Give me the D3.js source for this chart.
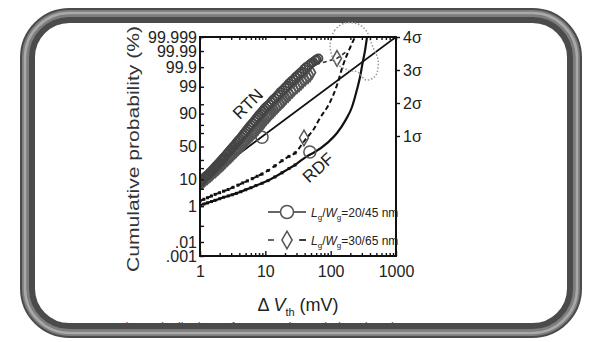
<!DOCTYPE html>
<html>
<head>
<meta charset="utf-8">
<script src="https://cdn.jsdelivr.net/npm/d3@7"></script>
<style>
  html, body { margin: 0; padding: 0; background: #fff; }
  svg { display: block; font-family: "Liberation Sans", Arial, sans-serif; }
</style>
</head>
<body>
<div id="chart"></div>
<script>
/* cumulative probability plot of ΔVth (RTN vs RDF), probit y / log x */

const WIDTH = 589;
const HEIGHT = 342;

// — Data ———————————————————————————————————————————————————————
// [ΔVth (mV), cumulative probability (%)]
const rtnSmall = [  // Lg/Wg = 20/45 nm
  [1.0, 8], [1.05, 9], [1.1, 10], [1.2, 12], [1.28, 13], [1.35, 14], [1.42, 15.5],
  [1.5, 17], [1.58, 18.5], [1.65, 20], [1.72, 21.5], [1.8, 23], [1.9, 25], [2.0, 27],
  [2.1, 29], [2.2, 31], [2.3, 33], [2.4, 35], [2.55, 38], [2.7, 41], [2.85, 43.5],
  [3.0, 46], [3.15, 48.5], [3.3, 51], [3.5, 54], [3.7, 57], [3.9, 59.5], [4.1, 62],
  [4.35, 65], [4.6, 68], [4.85, 70.5], [5.1, 73], [5.4, 75.5], [5.7, 78], [6.0, 80],
  [6.4, 82], [6.8, 84], [7.2, 86], [7.6, 87.5], [8.0, 89], [8.5, 90.2], [9.0, 91.5],
  [9.5, 92.5], [10, 93.5], [10.7, 94.3], [11.5, 95], [12.2, 95.8], [13, 96.5],
  [14, 97], [15, 97.5], [16, 97.9], [17, 98.3], [18.5, 98.6], [20, 98.9],
  [21.5, 99.1], [23, 99.3], [25, 99.45], [27, 99.55], [29, 99.65], [31, 99.72],
  [33.5, 99.78], [36, 99.82], [39, 99.87], [42, 99.9], [46, 99.92], [50, 99.94],
  [54, 99.95], [58, 99.96], [61, 99.965], [65, 99.97],
];
const rtnLarge = [  // Lg/Wg = 30/65 nm
  [1.0, 7], [1.08, 8], [1.15, 9], [1.22, 10], [1.3, 11], [1.37, 12], [1.45, 13],
  [1.52, 14], [1.6, 15.5], [1.7, 16.5], [1.8, 18], [1.9, 19.5], [2.0, 21], [2.15, 23],
  [2.3, 25], [2.45, 27.5], [2.6, 30], [2.75, 32], [2.9, 34], [3.05, 36], [3.2, 38],
  [3.4, 40.5], [3.6, 43], [3.8, 45.5], [4.0, 48], [4.25, 50.5], [4.5, 53], [4.75, 55.5],
  [5.0, 58], [5.3, 60.5], [5.6, 63], [5.95, 65.5], [6.3, 68], [6.65, 70], [7.0, 72],
  [7.4, 74], [7.8, 76], [8.2, 78], [8.7, 80], [9.2, 82], [9.7, 84], [10.3, 86],
  [11, 87.5], [11.7, 89], [12.5, 90.5], [13.2, 91.5], [14, 92.5], [15, 93.5],
  [16, 94.5], [17.2, 95.3], [18.5, 96], [19.7, 96.6], [21, 97.2], [22.5, 97.6],
  [24, 98.0], [26, 98.4], [28, 98.7], [30.5, 98.95], [33, 99.15], [35.5, 99.3],
  [38, 99.45], [41, 99.55], [45, 99.65], [48.5, 99.72], [52, 99.8],
];
const rtnFit = [[1, 7.8], [1000, 99.999]];
const rtnTail = [[60, 99.93], [125, 99.97], [170, 99.988]];

const rdfSmall = [
  [1.0, 1.1], [1.15, 1.25], [1.3, 1.4], [1.5, 1.6], [1.7, 1.8], [2.0, 2.1],
  [2.3, 2.4], [2.7, 2.7], [3.1, 3.0], [3.6, 3.4], [4.2, 3.9], [5.0, 4.6],
  [6.0, 5.4], [7.2, 6.4], [8.9, 7.6], [11, 9.2], [14, 11.8], [18, 15.3], [23, 19.5],
  [28.5, 23.6], [36, 30], [45, 36], [54, 40], [90, 56], [125, 70], [170, 85],
  [212, 93.8], [250, 98.5], [281, 99.65], [310, 99.95], [336, 99.991], [360, 99.999],
];
const rdfLarge = [
  [1.0, 1.7], [1.15, 2.0], [1.3, 2.3], [1.5, 2.7], [1.7, 3.1], [2.0, 3.6],
  [2.3, 4.1], [2.7, 4.7], [3.2, 5.6], [3.8, 6.6], [4.5, 7.8], [5.3, 9.0],
  [6.3, 10.5], [7.5, 12.3], [8.9, 14.2], [11, 17.5], [14, 22.5], [18, 29], [23, 35],
  [28.5, 40], [40.5, 60], [55, 75], [68.7, 86.6], [98, 95.8], [125, 99.16],
  [154, 99.92], [198, 99.994], [236, 99.999],
];

// big open symbols sitting on the fitted lines
const bigCircles = [[8.9, 64], [48, 41.5]];
const bigDiamonds = [[39, 63], [125, 99.97]];

// dotted highlight around the crossing point, [mV, z]
const highlight = [
  [166, 4.81], [116, 4.53], [98, 3.95], [116, 3.29], [184, 2.98], [262, 2.9],
  [347, 2.59], [494, 2.78], [531, 3.37], [430, 3.95], [360, 4.46], [262, 4.77],
];

// — Axis ticks ————————————————————————————————————————————————
const xMajor = [1, 10, 100, 1000];
const yTicks = [0.001, 0.01, 0.1, 1, 5, 10, 20, 30, 50, 70, 80, 90, 95, 99, 99.9, 99.99, 99.999];
const yLabels = { 0.001: '.001', 0.01: '.01', 1: '1', 10: '10', 50: '50', 90: '90',
  99: '99', 99.9: '99.9', 99.99: '99.99', 99.999: '99.999' };
const sigmaTicks = [1, 2, 3, 4];
const legendNames = ['20/45 nm', '30/65 nm'];

// inverse normal CDF (Acklam)
function probit(p) {
  const a = [-3.969683028665376e+01, 2.209460984245205e+02, -2.759285104469687e+02,
    1.383577518672690e+02, -3.066479806614716e+01, 2.506628277459239e+00];
  const b = [-5.447609879822406e+01, 1.615858368580409e+02, -1.556989798598866e+02,
    6.680131188771972e+01, -1.328068155288572e+01];
  const c = [-7.784894002430293e-03, -3.223964580411365e-01, -2.400758277161838e+00,
    -2.549732539343734e+00, 4.374664141464968e+00, 2.938163982698783e+00];
  const d = [7.784695709041462e-03, 3.224671290700398e-01, 2.445134137142996e+00,
    3.754408661907416e+00];
  const pl = 0.02425;
  if (p < pl) {
    const q = Math.sqrt(-2 * Math.log(p));
    return (((((c[0]*q+c[1])*q+c[2])*q+c[3])*q+c[4])*q+c[5]) / ((((d[0]*q+d[1])*q+d[2])*q+d[3])*q+1);
  }
  if (p > 1 - pl) {
    const q = Math.sqrt(-2 * Math.log(1 - p));
    return -(((((c[0]*q+c[1])*q+c[2])*q+c[3])*q+c[4])*q+c[5]) / ((((d[0]*q+d[1])*q+d[2])*q+d[3])*q+1);
  }
  const q = p - 0.5, r = q * q;
  return (((((a[0]*r+a[1])*r+a[2])*r+a[3])*r+a[4])*r+a[5])*q / (((((b[0]*r+b[1])*r+b[2])*r+b[3])*r+b[4])*r+1);
}

// — Scales ————————————————————————————————————————————————————
const x = d3.scaleLog().domain([1, 1000]).range([200, 396]);
const z = d3.scaleLinear().domain([probit(0.00001), probit(0.99999)]).range([256, 37]);
const y = p => z(probit(p / 100));
const sigma = d3.scaleLinear().domain([0, 4]).range([169, 37]);

const svg = d3.select('#chart').append('svg')
  .attr('width', WIDTH).attr('height', HEIGHT)
  .attr('viewBox', `0 0 ${WIDTH} ${HEIGHT}`);

svg.append('rect').attr('width', WIDTH).attr('height', HEIGHT).attr('fill', '#fff');

// caption peeking out under the frame
svg.append('text')
  .attr('x', 118).attr('y', 333)
  .attr('font-size', 14).attr('fill', '#555')
  .attr('textLength', 280).attr('lengthAdjust', 'spacingAndGlyphs')
  .text('Fig. 2 Distributions of RTN- and RDF-induced ΔVth');

// — Frame (tube look) ———————————————————————————————————————————
const frame = [
  { o: 0, w: 15, c: '#4b4b4b' },
  { o: 2, w: 7, c: '#7d7d7d' },
  { o: 2.5, w: 2.5, c: '#a9a9a9' },
];
frame.forEach(f => {
  svg.append('rect')
    .attr('x', 27.5 - f.o).attr('y', 15.5 - f.o)
    .attr('width', 547 + 2 * f.o).attr('height', 315 + 2 * f.o)
    .attr('rx', 42 + f.o).attr('ry', 42 + f.o)
    .attr('fill', 'none').attr('stroke', f.c).attr('stroke-width', f.w);
});

// — Plot ——————————————————————————————————————————————————————
svg.append('clipPath').attr('id', 'plot-clip')
  .append('rect').attr('x', 200).attr('y', 36).attr('width', 196).attr('height', 221);

const plot = svg.append('g').attr('clip-path', 'url(#plot-clip)');
const line = d3.line().x(d => x(d[0])).y(d => y(d[1]));
const smooth = d3.line().x(d => x(d[0])).y(d => y(d[1])).curve(d3.curveMonotoneX);

plot.append('path').datum(rtnFit)
  .attr('d', line).attr('fill', 'none').attr('stroke', '#111').attr('stroke-width', 1.8);

plot.append('path').datum(rdfSmall)
  .attr('d', smooth)
  .attr('fill', 'none').attr('stroke', '#111').attr('stroke-width', 2.2);

plot.append('path').datum(rdfLarge)
  .attr('d', smooth)
  .attr('fill', 'none').attr('stroke', '#111').attr('stroke-width', 2)
  .attr('stroke-dasharray', '5,3');

plot.append('path').datum(rtnTail)
  .attr('d', line).attr('fill', 'none').attr('stroke', '#333').attr('stroke-width', 1.6)
  .attr('stroke-dasharray', '4,3');

// small symbols along the lower RDF tails
[rdfSmall, rdfLarge].forEach(series => {
  plot.append('g').selectAll('rect')
    .data(series.filter(d => d[0] <= 30))
    .join('rect')
    .attr('x', d => x(d[0]) - 1.5).attr('y', d => y(d[1]) - 1.5)
    .attr('width', 3).attr('height', 3).attr('fill', '#111');
});

// RTN band: overlapping open symbols
const diamond = d3.symbol().type(d3.symbolDiamond).size(40);
plot.append('g').selectAll('path')
  .data(rtnLarge)
  .join('path')
  .attr('d', diamond)
  .attr('transform', d => `translate(${x(d[0])},${y(d[1])})`)
  .attr('fill', 'none').attr('stroke', '#555').attr('stroke-width', 1.8);

plot.append('g').selectAll('circle')
  .data(rtnSmall)
  .join('circle')
  .attr('cx', d => x(d[0])).attr('cy', d => y(d[1])).attr('r', 4)
  .attr('fill', 'none').attr('stroke', '#444').attr('stroke-width', 1.8);

// big symbols on the fits
plot.append('g').selectAll('circle')
  .data(bigCircles)
  .join('circle')
  .attr('cx', d => x(d[0])).attr('cy', d => y(d[1])).attr('r', 6)
  .attr('fill', 'none').attr('stroke', '#555').attr('stroke-width', 1.5);

plot.append('g').selectAll('path')
  .data(bigDiamonds)
  .join('path')
  .attr('d', d3.symbol().type(d3.symbolDiamond).size(70))
  .attr('transform', d => `translate(${x(d[0])},${y(d[1])})`)
  .attr('fill', 'none').attr('stroke', '#555').attr('stroke-width', 1.5);

// dotted highlight
svg.append('path').datum(highlight)
  .attr('d', d3.line().x(d => x(d[0])).y(d => z(d[1])).curve(d3.curveCardinalClosed))
  .attr('fill', 'none').attr('stroke', '#9a9a9a').attr('stroke-width', 1.5)
  .attr('stroke-dasharray', '1.5,1.8');

// — Axes ——————————————————————————————————————————————————————
const xMinor = [];
for (let dec = 1; dec < 1000; dec *= 10) for (let k = 2; k <= 9; k++) xMinor.push(dec * k);

const styleAxis = g => {
  g.select('.domain').remove();
  g.selectAll('line').attr('stroke', '#111').attr('stroke-width', 1.4);
  g.selectAll('text').attr('fill', '#222').attr('font-size', 16)
    .attr('font-family', '"Liberation Sans Narrow", "Liberation Sans", Arial, sans-serif');
};

svg.append('g').attr('transform', 'translate(0,256)')
  .call(d3.axisBottom(x).tickValues(xMinor).tickSize(-3).tickFormat(''))
  .call(styleAxis);
svg.append('g').attr('transform', 'translate(0,256)')
  .call(d3.axisBottom(x).tickValues(xMajor).tickSize(-5).tickPadding(10).tickFormat(d3.format('d')))
  .call(styleAxis);
svg.append('g').attr('transform', 'translate(0,37)')
  .call(d3.axisTop(x).tickValues(xMinor.concat(xMajor)).tickSize(-3).tickFormat(''))
  .call(styleAxis);

svg.append('g').attr('transform', 'translate(200,0)')
  .call(d3.axisLeft(z).tickValues(yTicks.map(p => probit(p / 100))).tickSize(-4).tickPadding(3)
    .tickFormat((d, i) => yLabels[yTicks[i]] || ''))
  .call(styleAxis);

svg.append('g').attr('transform', 'translate(396,0)')
  .call(d3.axisRight(sigma).tickValues(sigmaTicks).tickSize(4).tickPadding(3)
    .tickFormat(d => d + 'σ'))
  .call(styleAxis);

// plot box
svg.append('rect')
  .attr('x', 200).attr('y', 37).attr('width', 196).attr('height', 219)
  .attr('fill', 'none').attr('stroke', '#111').attr('stroke-width', 2);

// — Titles ————————————————————————————————————————————————————
svg.append('text')
  .attr('transform', 'translate(139,149) rotate(-90)')
  .attr('text-anchor', 'middle').attr('font-size', 17).attr('fill', '#333')
  .attr('textLength', 246).attr('lengthAdjust', 'spacingAndGlyphs')
  .text('Cumulative probability (%)');

const xt = svg.append('text')
  .attr('x', 298).attr('y', 311).attr('text-anchor', 'middle')
  .attr('font-size', 18).attr('fill', '#222');
xt.append('tspan').text('Δ ');
xt.append('tspan').attr('font-style', 'italic').text('V');
xt.append('tspan').attr('font-size', 11).attr('dy', 5).text('th');
xt.append('tspan').attr('dy', -5).text(' (mV)');

svg.append('text')
  .attr('transform', 'translate(252,108) rotate(-45)')
  .attr('text-anchor', 'middle').attr('font-size', 17).attr('fill', '#222')
  .text('RTN');
svg.append('text')
  .attr('transform', 'translate(322,172) rotate(-42)')
  .attr('text-anchor', 'middle').attr('font-size', 17).attr('fill', '#222')
  .text('RDF');

// — Legend ————————————————————————————————————————————————————
const legend = svg.append('g');
legendNames.forEach((name, i) => {
  const ly = 212 + i * 28;
  const row = legend.append('g').attr('transform', `translate(0,${ly})`);
  row.append('line').attr('x1', 268).attr('x2', 306)
    .attr('stroke', '#333').attr('stroke-width', 1.6)
    .attr('stroke-dasharray', i ? '6,26' : null);
  if (i) {
    row.append('line').attr('x1', 299).attr('x2', 306)
      .attr('stroke', '#333').attr('stroke-width', 1.6);
  }
  if (i === 0) {
    row.append('circle').attr('cx', 287).attr('r', 6.5)
      .attr('fill', '#fff').attr('stroke', '#555').attr('stroke-width', 1.5);
  } else {
    row.append('path').attr('d', d3.symbol().type(d3.symbolDiamond).size(90))
      .attr('transform', 'translate(287,0)')
      .attr('fill', '#fff').attr('stroke', '#555').attr('stroke-width', 1.5);
  }
  const t = row.append('text').attr('x', 311).attr('y', 5)
    .attr('font-size', 12).attr('fill', '#222');
  t.append('tspan').attr('font-style', 'italic').text('L');
  t.append('tspan').attr('font-size', 8).attr('dy', 3).text('g');
  t.append('tspan').attr('dy', -3).text('/');
  t.append('tspan').attr('font-style', 'italic').text('W');
  t.append('tspan').attr('font-size', 8).attr('dy', 3).text('g');
  t.append('tspan').attr('dy', -3).text('=' + name);
});
</script>
</body>
</html>
